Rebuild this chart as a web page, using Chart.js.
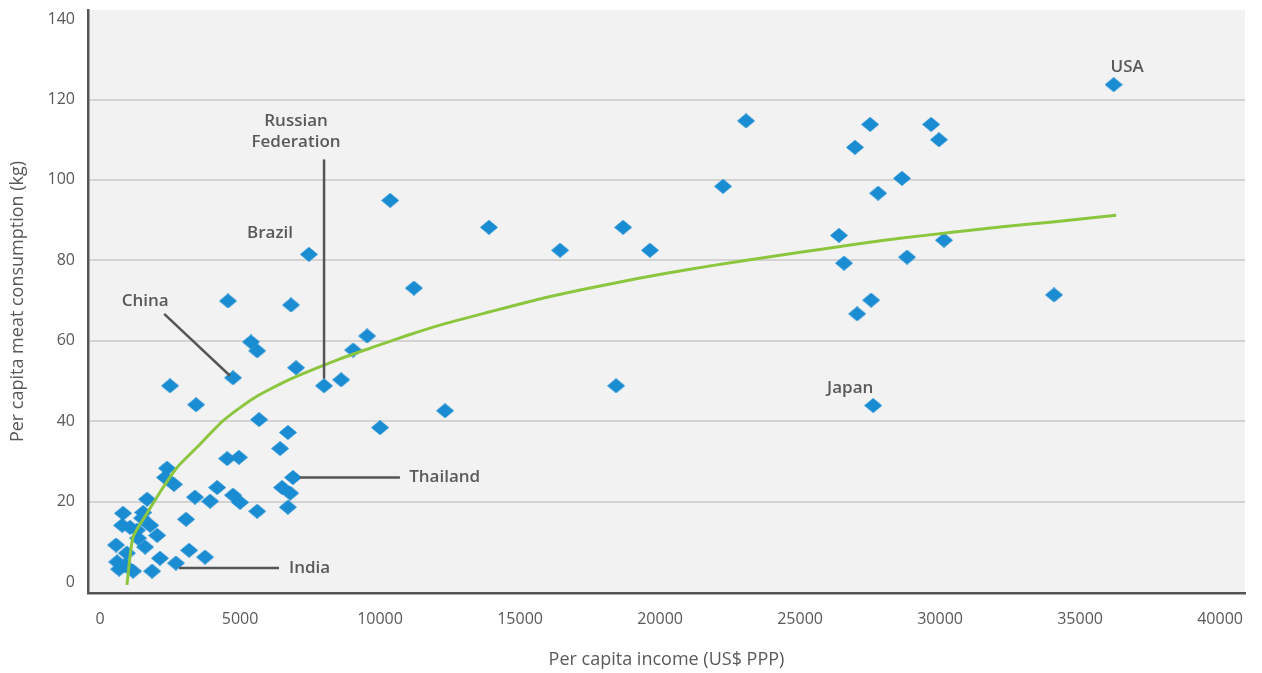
<!DOCTYPE html>
<html>
<head>
  <title>Meat consumption vs income</title>
  <script src="https://cdn.jsdelivr.net/npm/chart.js"></script>
  <style>
    html, body { margin: 0; padding: 0; background: #fff; }
    #wrap { width: 1262px; height: 673px; }
  </style>
</head>
<body>

<div id="wrap"><canvas id="meatChart"></canvas></div>

<script>
  // Countries: per capita income (US$ PPP) and meat consumption (kg)
  const incomeUSD = [
    36200, 23070, 27500, 29680, 29960, 26960, 28640, 27790, 22250, 10360,
    13890, 18680, 16430, 19640, 7460, 26390, 30140, 26570, 28820, 27540,
    27040, 34070, 11210, 4570, 6820, 5390, 5610, 9540, 9040, 7000,
    4750, 8610, 8000, 2500, 18430, 12320, 10000, 3430, 5680, 6710,
    6430, 27610, 4540, 4960, 6890, 6500, 6790, 6710, 5610, 4180,
    4750, 5000, 3930, 3390, 3070, 2390, 2320, 2640, 1680, 1540,
    820, 790, 1070, 1790, 2040, 1360, 1610, 570, 610, 680,
    1180, 1860, 2140, 2710, 3180, 3750, 960, 1500, 1320, 890
  ];
  const meatKg = [
    123.7, 114.7, 113.8, 113.8, 110.0, 108.1, 100.4, 96.7, 98.4, 94.9,
    88.2, 88.2, 82.5, 82.5, 81.5, 86.2, 85.0, 79.3, 80.8, 70.1,
    66.7, 71.4, 73.1, 69.9, 68.9, 59.7, 57.5, 61.2, 57.7, 53.3,
    50.8, 50.3, 48.8, 48.8, 48.8, 42.6, 38.4, 44.1, 40.4, 37.2,
    33.2, 43.9, 30.7, 31.0, 26.0, 23.5, 22.1, 18.6, 17.6, 23.5,
    21.6, 19.8, 20.1, 21.1, 15.6, 28.3, 26.0, 24.3, 20.6, 17.3,
    17.1, 14.1, 13.6, 14.1, 11.6, 10.9, 8.7, 9.2, 5.0, 3.2,
    2.7, 2.7, 5.9, 4.7, 7.9, 6.2, 7.2, 15.9, 12.9, 4.2
  ];

  // Trend line, points
  const trendIncome = [960, 1180, 1680, 2250, 2750, 3460, 4390, 5460, 6680, 8570,
    9750, 10960, 12140, 13930, 15710, 17500, 19290, 21070, 22860, 25000,
    26790, 28570, 30360, 32140, 33930, 36290];
  const trendKg = [-0.7, 11.2, 17.1, 23.5, 28.5, 33.5, 40.1, 45.6, 50.1, 55.5,
    58.4, 61.3, 63.9, 67.2, 70.4, 73.1, 75.6, 77.8, 79.8, 82.0,
    83.8, 85.5, 86.9, 88.3, 89.5, 91.2];

  const xTicks = [0, 5000, 10000, 15000, 20000, 25000, 30000, 35000, 40000];
  const yTicks = [0, 20, 40, 60, 80, 100, 120, 140];

  // Country labels (text in data units) and leader lines
  const labelText = ['USA', 'Russian', 'Federation', 'Brazil', 'China', 'Japan', 'Thailand', 'India'];
  const labelX = [36680, 7000, 7000, 6070, 1610, 26790, 11040, 6750];
  const labelY = [128.1, 114.5, 109.5, 86.7, 69.9, 48.3, 26.0, 3.5];
  const labelAlign = ['center', 'center', 'center', 'center', 'center', 'center', 'left', 'left'];
  const leaders = [
    [2290, 66.7, 4640, 51.3],   // China
    [8000, 105.1, 8000, 50.6],  // Russian Federation
    [7140, 26.0, 10710, 26.0],  // Thailand
    [2820, 3.5, 6390, 3.5]      // India
  ];

  const points = incomeUSD.map((v, i) => ({ x: v, y: meatKg[i] }));
  const trend = trendIncome.map((v, i) => ({ x: v, y: trendKg[i] }));

  // diamond marker, a bit wider than tall like the original
  const diamond = document.createElement('canvas');
  diamond.width = 18;
  diamond.height = 15;
  const dctx = diamond.getContext('2d');
  dctx.fillStyle = '#1A8CD2';
  dctx.beginPath();
  dctx.moveTo(9, 0);
  dctx.lineTo(18, 7.5);
  dctx.lineTo(9, 15);
  dctx.lineTo(0, 7.5);
  dctx.closePath();
  dctx.fill();

  const plotBackground = {
    id: 'plotBackground',
    beforeDraw(chart) {
      const { ctx, chartArea: a } = chart;
      ctx.save();
      ctx.fillStyle = '#F2F2F2';
      ctx.fillRect(a.left, a.top, a.right - a.left, a.bottom - a.top);
      ctx.restore();
    }
  };

  const countryLabels = {
    id: 'countryLabels',
    afterDatasetsDraw(chart) {
      const { ctx } = chart;
      const xs = chart.scales.x, ys = chart.scales.y;
      ctx.save();
      ctx.strokeStyle = '#555555';
      ctx.lineWidth = 2.5;
      leaders.forEach(l => {
        ctx.beginPath();
        ctx.moveTo(xs.getPixelForValue(l[0]), ys.getPixelForValue(l[1]));
        ctx.lineTo(xs.getPixelForValue(l[2]), ys.getPixelForValue(l[3]));
        ctx.stroke();
      });
      ctx.fillStyle = '#595959';
      ctx.font = '600 17px "Open Sans"';
      ctx.textBaseline = 'middle';
      labelText.forEach((t, i) => {
        ctx.textAlign = labelAlign[i];
        ctx.fillText(t, xs.getPixelForValue(labelX[i]), ys.getPixelForValue(labelY[i]));
      });
      ctx.restore();
    }
  };

  const ctx = document.getElementById('meatChart').getContext('2d');
  const meatChart = new Chart(ctx, {
    type: 'scatter',
    data: {
      datasets: [{
        type: 'line',
        label: 'Trend',
        data: trend,
        borderColor: '#8CC63F',
        borderWidth: 3,
        pointRadius: 0,
        fill: false,
        tension: 0.2,
        order: 0
      }, {
        label: 'Countries',
        data: points,
        pointStyle: diamond,
        pointRadius: 9,
        order: 1
      }]
    },
    options: {
      responsive: true,
      maintainAspectRatio: false,
      animation: false,
      layout: { padding: { top: 8, right: 17, left: 0, bottom: 0 } },
      plugins: {
        legend: { display: false },
        tooltip: { enabled: false }
      },
      scales: {
        x: {
          type: 'linear',
          min: -430,
          max: 40890,
          afterBuildTicks: s => { s.ticks = xTicks.map(v => ({ value: v })); },
          afterFit: s => { s.height = 80; s.paddingLeft = 0; s.paddingRight = 0; },
          grid: { display: false },
          border: { display: true, color: '#555555', width: 2.5 },
          ticks: {
            color: '#595959',
            font: { family: 'Open Sans', size: 16 },
            padding: 9,
            maxRotation: 0,
            callback: v => String(v)
          },
          title: {
            display: true,
            text: 'Per capita income (US$ PPP)',
            color: '#595959',
            font: { family: 'Open Sans', size: 18 },
            padding: { top: 0, bottom: 2 }
          }
        },
        y: {
          type: 'linear',
          min: -2.73,
          max: 142.26,
          afterBuildTicks: s => { s.ticks = yTicks.map(v => ({ value: v })); },
          afterFit: s => { s.width = 88; s.paddingTop = 0; s.paddingBottom = 0; },
          grid: {
            drawTicks: false,
            lineWidth: 2,
            color: c => (c.tick && c.tick.value > 0 && c.tick.value < 140) ? '#D3D3D3' : 'rgba(0,0,0,0)'
          },
          border: { display: true, color: '#555555', width: 2.5 },
          ticks: {
            color: '#595959',
            font: { family: 'Open Sans', size: 16 },
            padding: 13
          },
          title: {
            display: true,
            text: 'Per capita meat consumption (kg)',
            color: '#595959',
            font: { family: 'Open Sans', size: 18 },
            padding: { top: 7, bottom: 0 }
          }
        }
      }
    },
    plugins: [plotBackground, countryLabels]
  });
</script>

</body>
</html>
